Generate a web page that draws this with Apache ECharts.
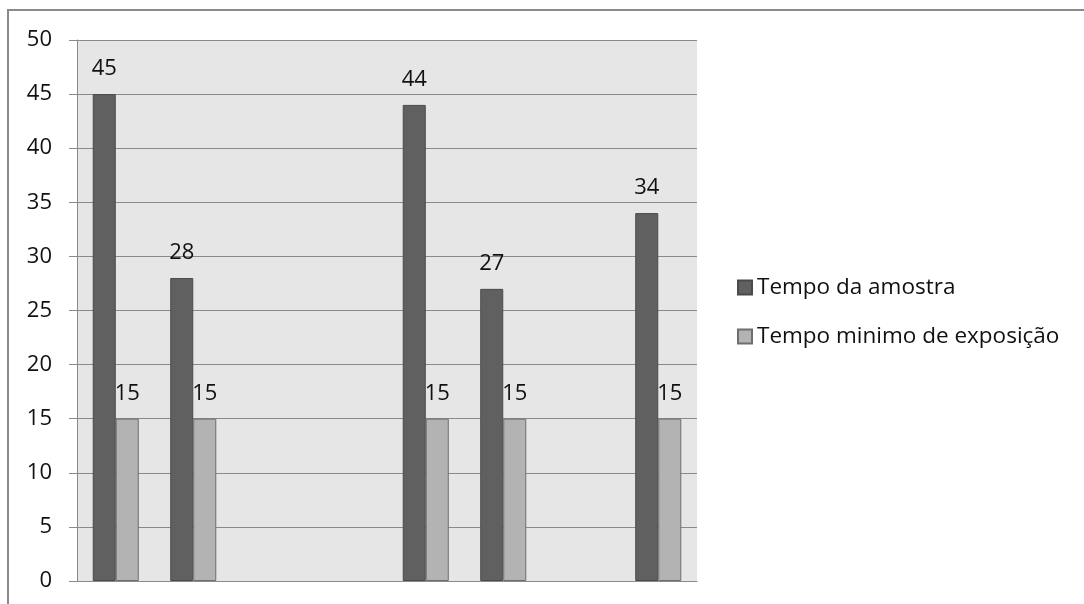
<!DOCTYPE html>
<html>
<head>
<meta charset="utf-8">
<script src="https://cdn.jsdelivr.net/npm/echarts@6/dist/echarts.min.js"></script>
<style>
html,body{margin:0;padding:0;background:#fff;}
#chart{width:1084px;height:604px;}
</style>
</head>
<body>
<div id="chart"></div>
<script>
const categories = ['1', '2', '3', '4', '5', '6', '7', '8'];
const tempoAmostra = [45, 28, null, null, 44, 27, null, 34];
const tempoMinimo = [15, 15, null, null, 15, 15, null, 15];
const yTicks = [0, 5, 10, 15, 20, 25, 30, 35, 40, 45, 50];

const chart = echarts.init(document.getElementById('chart'));
const font = '"Open Sans", "Noto Sans", sans-serif';
const gridColor = '#8a8a8a';
const textColor = '#111111';
chart.setOption({
  animation: false,
  textStyle: { fontFamily: font },
  graphic: [{
    type: 'rect',
    shape: { x: 8, y: 10, width: 1090, height: 610 },
    style: { fill: 'none', stroke: '#8a8a8a', lineWidth: 2 },
    z: -1
  }],
  grid: {
    left: 77, top: 40, right: 387, bottom: 23,
    show: true, backgroundColor: '#e6e6e6', borderWidth: 0
  },
  legend: {
    orient: 'vertical',
    left: 737, top: 275,
    padding: 0,
    icon: 'rect',
    itemWidth: 14, itemHeight: 14,
    itemGap: 24,
    textStyle: { fontFamily: font, fontSize: 22.5, color: textColor, lineHeight: 25 },
    data: ['Tempo da amostra', 'Tempo minimo de exposição']
  },
  xAxis: {
    type: 'category',
    data: categories,
    axisLine: { show: true, lineStyle: { color: gridColor, width: 1 } },
    axisTick: { show: false },
    axisLabel: { show: false }
  },
  yAxis: {
    type: 'value',
    min: yTicks[0], max: yTicks[yTicks.length - 1], interval: 5,
    axisLine: { show: true, lineStyle: { color: gridColor, width: 1 } },
    axisTick: { show: true, length: 8, lineStyle: { color: gridColor } },
    axisLabel: { margin: 25, fontFamily: font, fontSize: 22, color: textColor },
    splitLine: { show: true, lineStyle: { color: gridColor, width: 1 } }
  },
  series: [
    {
      name: 'Tempo da amostra', type: 'bar', data: tempoAmostra,
      barGap: '0%', barCategoryGap: '40.6%',
      itemStyle: { color: '#606060', borderColor: '#4a4a4a', borderWidth: 1 },
      label: { show: true, position: 'top', distance: 14, fontFamily: font, fontSize: 22, color: textColor }
    },
    {
      name: 'Tempo minimo de exposição', type: 'bar', data: tempoMinimo,
      barGap: '0%', barCategoryGap: '40.6%',
      itemStyle: { color: '#b3b3b3', borderColor: '#6e6e6e', borderWidth: 1 },
      label: { show: true, position: 'top', distance: 14, fontFamily: font, fontSize: 22, color: textColor }
    }
  ]
});
</script>
</body>
</html>
